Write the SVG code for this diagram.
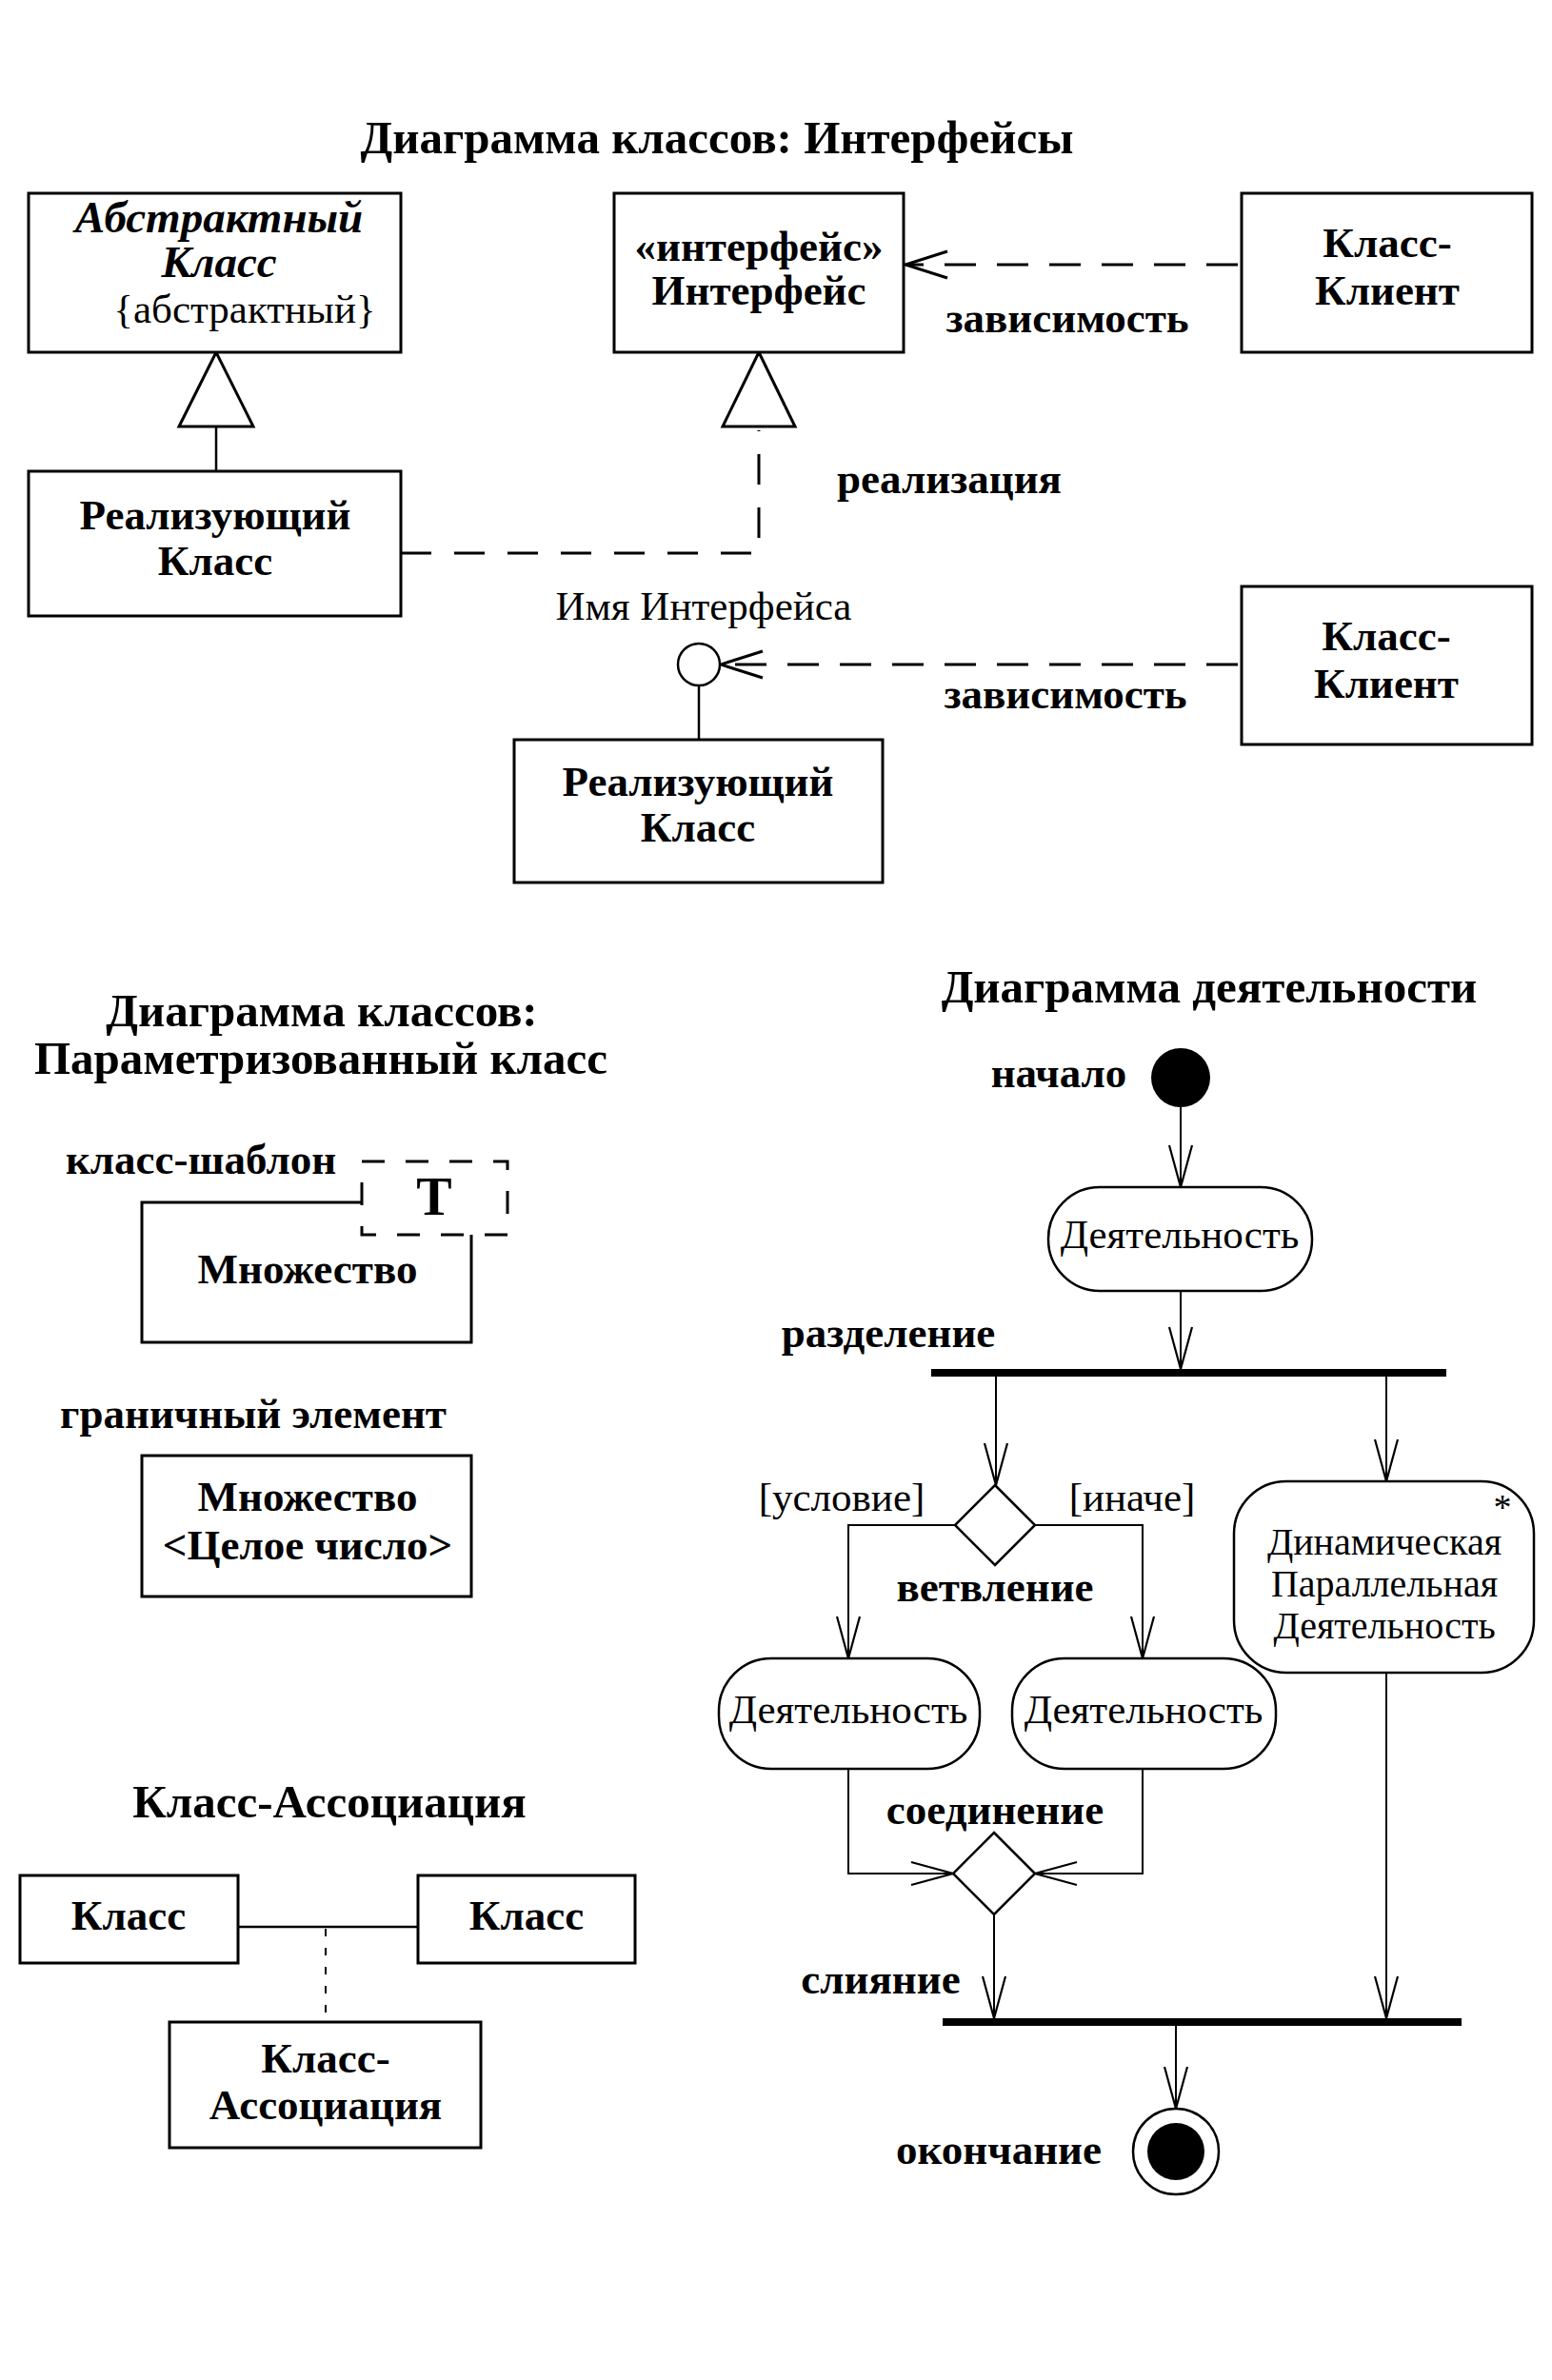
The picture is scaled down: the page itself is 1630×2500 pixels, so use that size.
<svg xmlns="http://www.w3.org/2000/svg" width="1630" height="2500" viewBox="0 0 1630 2500">
<style>
text{font-family:"Liberation Serif","DejaVu Serif",serif;fill:#000;text-anchor:middle}
.t{font-size:49px;font-weight:bold}
.b{font-size:45px;font-weight:bold}
.bi{font-size:47px;font-weight:bold;font-style:italic}
.r{font-size:43px}
.rs{font-size:40px}
.box{fill:#fff;stroke:#000;stroke-width:3}
.act{fill:#fff;stroke:#000;stroke-width:2.5}
.ln{fill:none;stroke:#000;stroke-width:2.5}
.aln{fill:none;stroke:#000;stroke-width:2}
.dash{fill:none;stroke:#000;stroke-width:3;stroke-dasharray:33 22}
.dot{fill:none;stroke:#000;stroke-width:2;stroke-dasharray:8 12}
.tri{fill:#fff;stroke:#000;stroke-width:3}
</style>
<defs>
<marker id="openDep" markerUnits="userSpaceOnUse" viewBox="-50 -20 56 40" markerWidth="56" markerHeight="40" refX="0" refY="0" orient="auto" overflow="visible">
<path d="M-44,-14 L0,0 L-44,14" fill="none" stroke="#000" stroke-width="3"/>
</marker>
<marker id="openAct" markerUnits="userSpaceOnUse" viewBox="-50 -20 56 40" markerWidth="56" markerHeight="40" refX="0" refY="0" orient="auto" overflow="visible">
<path d="M-44,-12 L0,0 L-44,12" fill="none" stroke="#000" stroke-width="2.2"/>
</marker>
</defs>
<rect width="1630" height="2500" fill="#fff"/>

<!-- Titles -->
<g id="titles">
<text class="t" x="753" y="161">Диаграмма классов: Интерфейсы</text>
<text class="t" x="338" y="1078">Диаграмма классов:</text>
<text class="t" x="337" y="1128">Параметризованный класс</text>
<text class="t" x="346" y="1909">Класс-Ассоциация</text>
<text class="t" x="1270" y="1053">Диаграмма деятельности</text>
</g>

<!-- Connectors -->
<g id="connectors">
<line class="ln" x1="227" y1="448" x2="227" y2="495"/>
<polygon class="tri" points="227,370 188,448 266,448"/>
<path class="dash" d="M421,581 H797 V452" style="stroke-dasharray:32 24"/>
<polygon class="tri" points="797,370 759,448 835,448"/>
<path class="dash" d="M1300,278 H951" marker-end="url(#openDep)"/>
<path class="dash" d="M1300,698 H757" marker-end="url(#openDep)"/>
<line class="ln" x1="734" y1="720" x2="734" y2="777"/>
<line class="ln" x1="250" y1="2024" x2="439" y2="2024"/>
<line class="dot" x1="342" y1="2026" x2="342" y2="2124"/>
<path class="aln" d="M1240,1163 V1247" marker-end="url(#openAct)"/>
<path class="aln" d="M1240,1356 V1438" marker-end="url(#openAct)"/>
<path class="aln" d="M1046,1446 V1560" marker-end="url(#openAct)"/>
<path class="aln" d="M1456,1446 V1556" marker-end="url(#openAct)"/>
<path class="aln" d="M1003,1602 H891 V1742" marker-end="url(#openAct)"/>
<path class="aln" d="M1087,1602 H1200 V1742" marker-end="url(#openAct)"/>
<path class="aln" d="M891,1858 V1968 H1001" marker-end="url(#openAct)"/>
<path class="aln" d="M1200,1858 V1968 H1087" marker-end="url(#openAct)"/>
<path class="aln" d="M1044,2011 V2120" marker-end="url(#openAct)"/>
<path class="aln" d="M1456,1757 V2120" marker-end="url(#openAct)"/>
<path class="aln" d="M1235,2128 V2215" marker-end="url(#openAct)"/>
</g>

<!-- Interfaces section -->
<g id="abstract-class">
<rect class="box" x="30" y="203" width="391" height="167"/>
<text class="bi" x="230" y="244">Абстрактный</text>
<text class="bi" x="230" y="291">Класс</text>
<text class="r" x="257" y="339">{абстрактный}</text>
</g>
<g id="realizing-class-1">
<rect class="box" x="30" y="495" width="391" height="152"/>
<text class="b" x="226" y="556">Реализующий</text>
<text class="b" x="226" y="604">Класс</text>
</g>
<g id="interface">
<rect class="box" x="645" y="203" width="304" height="167"/>
<text class="b" x="797" y="274">«интерфейс»</text>
<text class="b" x="797" y="320">Интерфейс</text>
</g>
<g id="client-1">
<rect class="box" x="1304" y="203" width="305" height="167"/>
<text class="b" x="1457" y="270">Класс-</text>
<text class="b" x="1457" y="320">Клиент</text>
</g>
<g id="labels-top">
<text class="b" x="1121" y="349">зависимость</text>
<text class="b" x="997" y="518">реализация</text>
<text class="r" x="739" y="651">Имя Интерфейса</text>
<text class="b" x="1119" y="744">зависимость</text>
</g>
<g id="interface-lollipop">
<circle cx="734" cy="698" r="22" fill="#fff" stroke="#000" stroke-width="2.5"/>
</g>
<g id="client-2">
<rect class="box" x="1304" y="616" width="305" height="166"/>
<text class="b" x="1456" y="683">Класс-</text>
<text class="b" x="1456" y="733">Клиент</text>
</g>
<g id="realizing-class-2">
<rect class="box" x="540" y="777" width="387" height="150"/>
<text class="b" x="733" y="836">Реализующий</text>
<text class="b" x="733" y="884">Класс</text>
</g>

<!-- Parameterized class -->
<g id="template-class">
<text class="b" x="211" y="1233">класс-шаблон</text>
<path d="M380,1263 H149 V1410 H495 V1297" fill="none" stroke="#000" stroke-width="3"/>
<rect x="380" y="1220" width="153" height="77" fill="none" stroke="#000" stroke-width="3" stroke-dasharray="24 22"/>
<text x="456" y="1276" style="font-size:56px;font-weight:bold">T</text>
<text class="b" x="323" y="1348">Множество</text>
</g>
<g id="bound-element">
<text class="b" x="266" y="1500">граничный элемент</text>
<rect class="box" x="149" y="1529" width="346" height="148"/>
<text class="b" x="323" y="1587">Множество</text>
<text class="b" x="323" y="1638">&lt;Целое число&gt;</text>
</g>

<!-- Association class -->
<g id="class-left">
<rect class="box" x="21" y="1970" width="229" height="92"/>
<text class="b" x="135" y="2027">Класс</text>
</g>
<g id="class-right">
<rect class="box" x="439" y="1970" width="228" height="92"/>
<text class="b" x="553" y="2027">Класс</text>
</g>
<g id="association-class">
<rect class="box" x="178" y="2124" width="327" height="132"/>
<text class="b" x="342" y="2177">Класс-</text>
<text class="b" x="342" y="2226">Ассоциация</text>
</g>

<!-- Activity diagram -->
<g id="start">
<circle cx="1240" cy="1132" r="31" fill="#000"/>
<text class="b" x="1112" y="1142">начало</text>
</g>
<g id="activity-1">
<rect class="act" x="1101" y="1247" width="277" height="109" rx="54" ry="54"/>
<text class="r" x="1239" y="1311">Деятельность</text>
</g>
<g id="fork">
<rect x="978" y="1438" width="541" height="8" fill="#000"/>
<text class="b" x="933" y="1415">разделение</text>
</g>
<g id="branch">
<polygon class="act" points="1045,1560 1087,1602 1045,1644 1003,1602"/>
<text class="r" x="884" y="1587">[условие]</text>
<text class="r" x="1189" y="1587">[иначе]</text>
<text class="b" x="1045" y="1682">ветвление</text>
</g>
<g id="dynamic-activity">
<rect class="act" x="1296" y="1556" width="315" height="201" rx="55" ry="55"/>
<text class="r" x="1578" y="1596" style="font-size:38px">*</text>
<text class="rs" x="1454" y="1633">Динамическая</text>
<text class="rs" x="1454" y="1677">Параллельная</text>
<text class="rs" x="1454" y="1721">Деятельность</text>
</g>
<g id="activity-left">
<rect class="act" x="755" y="1742" width="274" height="116" rx="55" ry="55"/>
<text class="r" x="891" y="1810">Деятельность</text>
</g>
<g id="activity-right">
<rect class="act" x="1063" y="1742" width="277" height="116" rx="55" ry="55"/>
<text class="r" x="1201" y="1810">Деятельность</text>
</g>
<g id="merge">
<polygon class="act" points="1044,1925 1087,1968 1044,2011 1001,1968"/>
<text class="b" x="1045" y="1916">соединение</text>
</g>
<g id="join">
<rect x="990" y="2120" width="545" height="8" fill="#000"/>
<text class="b" x="925" y="2094">слияние</text>
</g>
<g id="end">
<circle cx="1235" cy="2260" r="45" fill="#fff" stroke="#000" stroke-width="2.5"/>
<circle cx="1235" cy="2260" r="30" fill="#000"/>
<text class="b" x="1049" y="2273">окончание</text>
</g>
</svg>
